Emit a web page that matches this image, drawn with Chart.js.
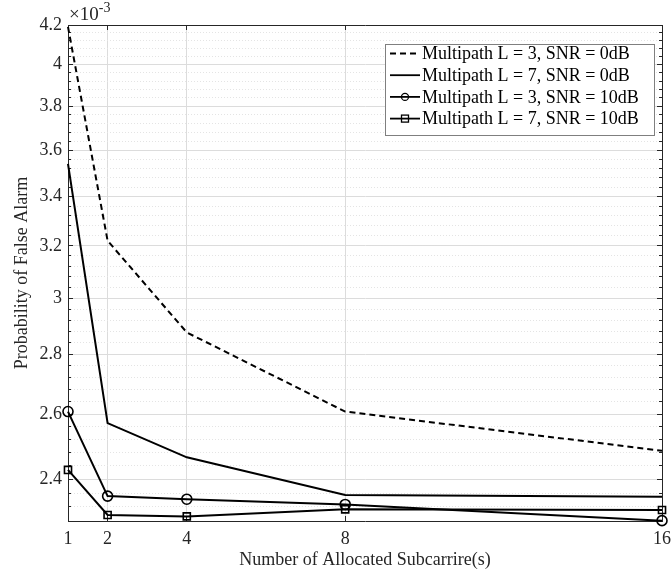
<!DOCTYPE html>
<html>
<head>
<meta charset="utf-8">
<script src="https://cdn.jsdelivr.net/npm/chart.js@4.4.1/dist/chart.umd.min.js"></script>
<style>
  html, body { margin: 0; padding: 0; background: #fff; }
</style>
</head>
<body>
<canvas id="pfaChart" width="672" height="573"></canvas>
<script>
// number of allocated subcarriers
var subcarriers = [1, 2, 4, 8, 16];

// probability of false alarm, in units of 1e-3
var pfaL3Snr0 = [4.19, 3.22, 2.876, 2.609, 2.486];
var pfaL7Snr0 = [3.54, 2.572, 2.466, 2.354, 2.349];
var pfaL3Snr10 = [2.609, 2.351, 2.342, 2.327, 2.281];
var pfaL7Snr10 = [2.428, 2.297, 2.293, 2.313, 2.311];

var seriesNames = [
    "Multipath L = 3, SNR = 0dB",
    "Multipath L = 7, SNR = 0dB",
    "Multipath L = 3, SNR = 10dB",
    "Multipath L = 7, SNR = 10dB"
];

var yMajorTicks = [2.4, 2.6, 2.8, 3, 3.2, 3.4, 3.6, 3.8, 4, 4.2];
var yMinorTicks = [2.32, 2.36, 2.44, 2.48, 2.52, 2.56, 2.64, 2.68, 2.72, 2.76,
    2.84, 2.88, 2.92, 2.96, 3.04, 3.08, 3.12, 3.16, 3.24, 3.28, 3.32, 3.36,
    3.44, 3.48, 3.52, 3.56, 3.64, 3.68, 3.72, 3.76, 3.84, 3.88, 3.92, 3.96,
    4.04, 4.08, 4.12, 4.16];

var serif = "'Liberation Serif', 'Times New Roman', serif";
var axisColor = '#262626';

function points(ys) {
    var out = [];
    for (var i = 0; i < subcarriers.length; i++) {
        out.push({ x: subcarriers[i], y: ys[i] });
    }
    return out;
}

function setTicks(list) {
    return function (scale) {
        scale.ticks = list.map(function (v) { return { value: v }; });
    };
}

// hidden-label axis used only for the box edges / minor grid
function edgeAxis(pos, list, opts) {
    var horiz = pos == 'top' || pos == 'bottom';
    var a = {
        type: horiz ? 'linear' : 'logarithmic',
        position: pos,
        min: horiz ? 1 : 2.28,
        max: horiz ? 16 : 4.2,
        weight: opts.weight,
        afterBuildTicks: setTicks(list),
        afterFit: function (scale) {
            if (horiz) scale.height = opts.size; else scale.width = opts.size;
            scale.paddingLeft = 0;
            scale.paddingRight = 0;
        },
        ticks: { display: false },
        grid: {
            display: true,
            drawOnChartArea: !!opts.gridColor,
            color: opts.gridColor || 'rgba(0,0,0,0)',
            lineWidth: 1,
            tickLength: opts.tickLength,
            tickColor: axisColor,
            tickWidth: 1
        },
        border: { display: opts.border, color: axisColor, width: 1, dash: opts.dash || [] }
    };
    return a;
}

// legend box drawn inside the plot, top right
var legendBox = {
    id: 'legendBox',
    afterDraw: function (chart) {
        var ctx = chart.ctx;
        var area = chart.chartArea;
        var w = 269, h = 91;
        var x = area.right - 8 - w, y = area.top + 19;
        ctx.save();
        ctx.fillStyle = '#fff';
        ctx.fillRect(x, y, w, h);
        ctx.strokeStyle = '#7f7f7f';
        ctx.lineWidth = 1;
        ctx.strokeRect(x + 0.5, y + 0.5, w, h);
        ctx.font = '18px ' + serif;
        ctx.textBaseline = 'middle';
        chart.data.datasets.forEach(function (ds, i) {
            var cy = y + 9.5 + i * 21.7;
            var lx = x + 5;
            ctx.strokeStyle = '#000';
            ctx.lineWidth = 1.8;
            ctx.setLineDash(ds.borderDash || []);
            ctx.beginPath();
            ctx.moveTo(lx, cy);
            ctx.lineTo(lx + 30, cy);
            ctx.stroke();
            ctx.setLineDash([]);
            ctx.lineWidth = 1.3;
            if (ds.pointStyle == 'circle' && ds.pointRadius > 0) {
                ctx.beginPath();
                ctx.arc(lx + 15, cy, 3.5, 0, Math.PI * 2);
                ctx.stroke();
            } else if (ds.pointStyle == 'rect' && ds.pointRadius > 0) {
                ctx.strokeRect(lx + 11.5, cy - 3.5, 7, 7);
            }
            ctx.fillStyle = '#000';
            ctx.fillText(ds.label, lx + 32, cy + 1);
        });
        ctx.restore();
    }
};

// x10^-3 multiplier above the y axis
var exponentLabel = {
    id: 'exponentLabel',
    afterDraw: function (chart) {
        var ctx = chart.ctx;
        var area = chart.chartArea;
        ctx.save();
        ctx.fillStyle = axisColor;
        ctx.textBaseline = 'alphabetic';
        ctx.font = '19px ' + serif;
        ctx.fillText('\u00d710', area.left + 1, area.top - 5);
        var w = ctx.measureText('\u00d710').width;
        ctx.font = '14px ' + serif;
        ctx.fillText('-3', area.left + 1 + w, area.top - 13);
        ctx.restore();
    }
};

var ctx = document.getElementById('pfaChart').getContext('2d');
var pfaChart = new Chart(ctx, {
    type: 'line',
    data: {
        datasets: [{
            label: seriesNames[0],
            data: points(pfaL3Snr0),
            borderColor: '#000',
            borderWidth: 2,
            borderDash: [6, 4],
            pointRadius: 0,
            pointStyle: 'circle',
            clip: false
        }, {
            label: seriesNames[1],
            data: points(pfaL7Snr0),
            borderColor: '#000',
            borderWidth: 2,
            pointRadius: 0,
            pointStyle: 'circle',
            clip: false
        }, {
            label: seriesNames[2],
            data: points(pfaL3Snr10),
            borderColor: '#000',
            borderWidth: 2,
            pointStyle: 'circle',
            pointRadius: 5,
            pointBorderWidth: 1.6,
            pointBorderColor: '#000',
            pointBackgroundColor: 'rgba(0,0,0,0)',
            clip: false
        }, {
            label: seriesNames[3],
            data: points(pfaL7Snr10),
            borderColor: '#000',
            borderWidth: 2,
            pointStyle: 'rect',
            pointRadius: 5,
            pointBorderWidth: 1.6,
            pointBorderColor: '#000',
            pointBackgroundColor: 'rgba(0,0,0,0)',
            clip: false
        }]
    },
    options: {
        responsive: false,
        animation: false,
        devicePixelRatio: 1,
        layout: { padding: 0 },
        plugins: {
            legend: { display: false },
            tooltip: { enabled: false }
        },
        scales: {
            x: {
                type: 'linear',
                position: 'bottom',
                min: 1,
                max: 16,
                weight: 1,
                afterBuildTicks: setTicks(subcarriers),
                afterFit: function (scale) {
                    scale.height = 52;
                    scale.paddingLeft = 0;
                    scale.paddingRight = 0;
                },
                ticks: {
                    color: axisColor,
                    font: { family: serif, size: 18 },
                    padding: 12,
                    maxRotation: 0,
                    callback: function (v) { return String(v); }
                },
                grid: {
                    color: '#dcdcdc',
                    lineWidth: 1,
                    tickLength: -5,
                    tickColor: axisColor,
                    tickWidth: 1
                },
                border: { display: true, color: axisColor, width: 1 },
                title: {
                    display: true,
                    text: 'Number of Allocated Subcarrire(s)',
                    color: axisColor,
                    font: { family: serif, size: 18 },
                    padding: { top: 0, bottom: 2 }
                }
            },
            xTop: edgeAxis('top', subcarriers, { weight: 1, size: 25, tickLength: -5, border: true }),
            y: {
                type: 'logarithmic',
                position: 'left',
                min: 2.28,
                max: 4.2,
                weight: 1,
                afterBuildTicks: setTicks(yMajorTicks),
                afterFit: function (scale) { scale.width = 68; },
                ticks: {
                    color: axisColor,
                    font: { family: serif, size: 18 },
                    padding: 11,
                    callback: function (v) { return String(v); }
                },
                grid: {
                    color: '#dcdcdc',
                    lineWidth: 1,
                    tickLength: -5,
                    tickColor: axisColor,
                    tickWidth: 1
                },
                border: { display: true, color: axisColor, width: 1 },
                title: {
                    display: true,
                    text: 'Probability of False Alarm',
                    color: axisColor,
                    font: { family: serif, size: 18 },
                    padding: { top: 11, bottom: 0 }
                }
            },
            yMinor: edgeAxis('left', yMinorTicks, { weight: 0, size: 0, tickLength: -3, border: false, gridColor: '#e4e4e4', dash: [1, 2] }),
            yRight: edgeAxis('right', yMajorTicks, { weight: 1, size: 10, tickLength: -5, border: true }),
            yRightMinor: edgeAxis('right', yMinorTicks, { weight: 0, size: 0, tickLength: -3, border: false })
        }
    },
    plugins: [legendBox, exponentLabel]
});
</script>
</body>
</html>
